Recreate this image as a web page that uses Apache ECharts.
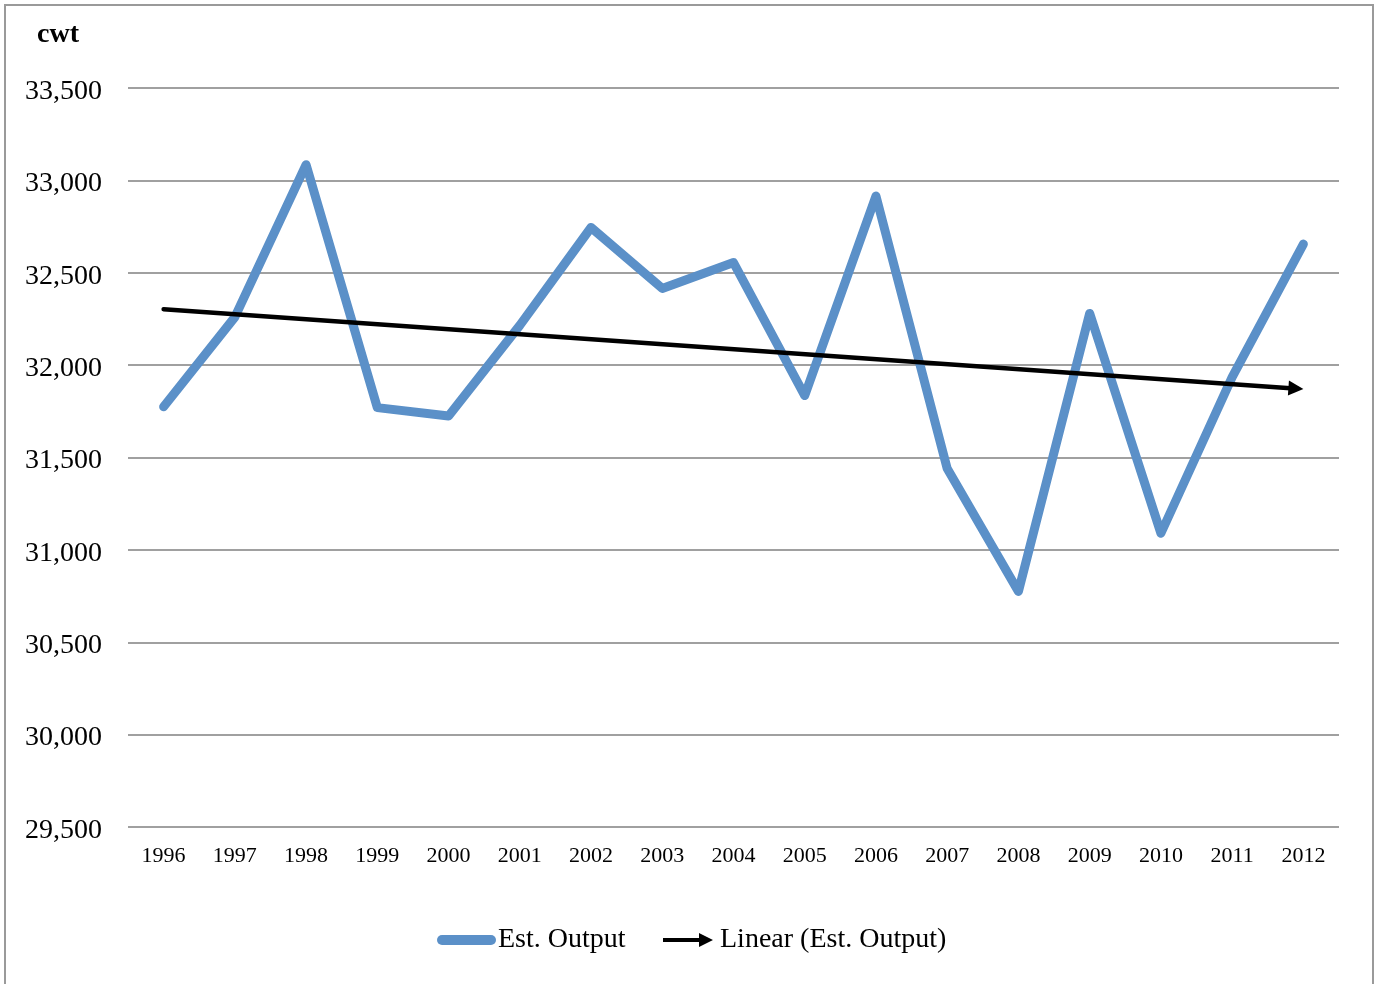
<!DOCTYPE html>
<html>
<head>
<meta charset="utf-8">
<title>Est. Output, cwt, 1996–2012</title>
<script src="https://cdn.jsdelivr.net/npm/echarts@6/dist/echarts.min.js"></script>
<style>
  html, body { margin: 0; padding: 0; background: #ffffff; }
  #chart { width: 1377px; height: 984px; }
</style>
</head>
<body>
<div id="chart"></div>
<script>
// Years on the category axis
const years = ['1996', '1997', '1998', '1999', '2000', '2001', '2002', '2003', '2004',
               '2005', '2006', '2007', '2008', '2009', '2010', '2011', '2012'];

// Estimated output (cwt) per year
const estOutput = [31775, 32260, 33085, 31770, 31725, 32215, 32745, 32415, 32555,
                   31835, 32915, 31440, 30775, 32280, 31090, 31935, 32655];

// Value axis range and step (cwt)
const yMin = 29500;
const yMax = 33500;
const yStep = 500;

const seriesName = 'Est. Output';
const trendName = 'Linear (Est. Output)';

// Least-squares linear trend of the output over the year index
function linearFit(values) {
  const n = values.length;
  let sx = 0, sy = 0, sxx = 0, sxy = 0;
  values.forEach((v, i) => { sx += i; sy += v; sxx += i * i; sxy += i * v; });
  const slope = (n * sxy - sx * sy) / (n * sxx - sx * sx);
  const intercept = (sy - slope * sx) / n;
  return values.map((_, i) => intercept + slope * i);
}
const trend = linearFit(estOutput);
const last = years.length - 1;

const FONT = '"Liberation Serif", "Times New Roman", serif';
const BLUE = '#5B90C8';

// Trend line from first to last year, ending in a solid arrowhead
function renderTrend(params, api) {
  const p0 = api.coord([api.value(0), api.value(1)]);
  const p1 = api.coord([api.value(2), api.value(3)]);
  const dx = p1[0] - p0[0], dy = p1[1] - p0[1];
  const len = Math.sqrt(dx * dx + dy * dy);
  const ux = dx / len, uy = dy / len;
  const headLen = 15, headHalf = 7.5;
  const bx = p1[0] - ux * headLen, by = p1[1] - uy * headLen;
  return {
    type: 'group',
    children: [{
      type: 'line',
      shape: { x1: p0[0], y1: p0[1], x2: bx + ux * 2, y2: by + uy * 2 },
      style: { stroke: '#000000', lineWidth: 4.5, lineCap: 'round' }
    }, {
      type: 'polygon',
      shape: { points: [
        [p1[0], p1[1]],
        [bx - uy * headHalf, by + ux * headHalf],
        [bx + uy * headHalf, by - ux * headHalf]
      ] },
      style: { fill: '#000000' }
    }]
  };
}

const chart = echarts.init(document.getElementById('chart'), null, { renderer: 'canvas' });

chart.setOption({
  backgroundColor: '#ffffff',
  animation: false,
  graphic: [{
    type: 'rect',
    shape: { x: 5, y: 5, width: 1368, height: 1010 },
    style: { fill: 'none', stroke: '#9a9a9a', lineWidth: 2 },
    silent: true,
    z: -1
  }],
  title: {
    text: 'cwt',
    left: 37,
    top: 21,
    padding: 0,
    textStyle: { fontFamily: FONT, fontSize: 28, fontWeight: 'bold', color: '#000000' }
  },
  legend: [{
    data: [{ name: seriesName, icon: 'path://M5,0 L54,0 A5,5 0 0 1 54,10 L5,10 A5,5 0 0 1 5,0 Z' }],
    left: 437,
    top: 926,
    itemWidth: 59,
    itemHeight: 10,
    itemGap: 0,
    padding: 0,
    textStyle: { fontFamily: FONT, fontSize: 28, color: '#000000', padding: [4, 0, 0, -3] }
  }, {
    data: [{ name: trendName, icon: 'path://M0,5 L36,5 L36,0 L50,7 L36,14 L36,9 L0,9 Z' }],
    left: 663,
    top: 926,
    itemWidth: 50,
    itemHeight: 14,
    itemGap: 0,
    padding: 0,
    itemStyle: { color: '#000000' },
    textStyle: { fontFamily: FONT, fontSize: 28, color: '#000000', padding: [4, 0, 0, 2] }
  }],
  grid: { left: 128, right: 38, top: 88, bottom: 157, containLabel: false },
  xAxis: {
    type: 'category',
    data: years,
    boundaryGap: true,
    axisLine: { show: false },
    axisTick: { show: false },
    axisLabel: { fontFamily: FONT, fontSize: 22, color: '#000000', margin: 18, interval: 0 },
    splitLine: { show: false }
  },
  yAxis: {
    type: 'value',
    min: yMin,
    max: yMax,
    interval: yStep,
    axisLine: { show: false },
    axisTick: { show: false },
    axisLabel: {
      margin: 26,
      formatter: v => '{v|' + v.toLocaleString('en-US') + '}',
      rich: {
        v: { fontFamily: FONT, fontSize: 28, color: '#000000', padding: [7, 0, 0, 0] }
      }
    },
    splitLine: { show: true, lineStyle: { color: '#a0a0a0', width: 2 } }
  },
  series: [{
    name: seriesName,
    type: 'line',
    data: estOutput,
    symbol: 'none',
    itemStyle: { color: BLUE },
    lineStyle: { color: BLUE, width: 9, cap: 'round', join: 'round' },
    z: 2
  }, {
    name: trendName,
    type: 'custom',
    renderItem: renderTrend,
    itemStyle: { color: '#000000' },
    encode: { x: [0, 2], y: [1, 3] },
    data: [[0, trend[0], last, trend[last]]],
    silent: true,
    z: 3
  }]
});
</script>
</body>
</html>
